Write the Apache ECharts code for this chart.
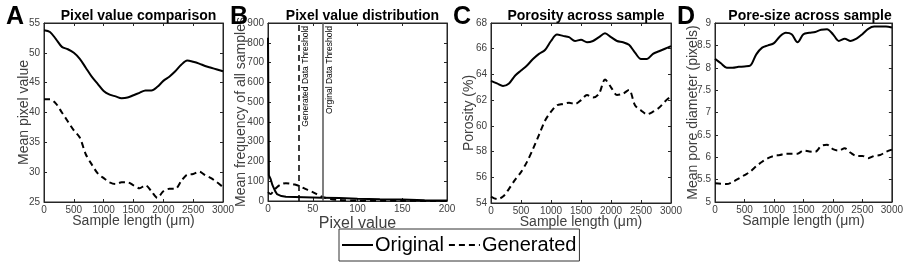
<!DOCTYPE html>
<html>
<head>
<meta charset="utf-8">
<script src="https://cdn.jsdelivr.net/npm/echarts@6/dist/echarts.min.js"></script>
<style>
  html, body { margin: 0; padding: 0; background: #fff; }
  #chart { width: 906px; height: 266px; }
</style>
</head>
<body>
<div id="chart"></div>
<script>
// sample positions (um) for panels A, C, D
var sampleX = [0, 100, 200, 300, 400, 500, 600, 700, 800, 900, 1000, 1100, 1200, 1300, 1400, 1500,
  1600, 1700, 1800, 1900, 2000, 2100, 2200, 2300, 2400, 2500, 2600, 2700, 2800, 2900, 3000];

// A: mean pixel value
var pixelOriginal = [53.8, 53.5, 52.3, 51.0, 50.6, 50.0, 49.0, 47.5, 46.0, 44.8, 43.6, 43.0, 42.7, 42.4, 42.5, 42.9,
  43.3, 43.7, 43.7, 44.3, 45.3, 46.0, 46.9, 48.0, 48.7, 48.5, 48.2, 47.8, 47.5, 47.2, 46.9];
var pixelGenerated = [42.2, 42.2, 41.5, 40.0, 38.5, 37.0, 35.8, 33.0, 31.3, 29.8, 29.0, 28.3, 28.0, 28.3, 28.3, 27.8,
  27.3, 27.8, 26.8, 25.7, 26.8, 27.2, 27.2, 28.5, 29.6, 29.7, 30.1, 29.5, 29.0, 28.3, 27.5];

// B: pixel value distribution
var distXOriginal = [0, 1, 3, 5, 8, 10, 15, 20, 30, 40, 50, 60, 80, 100, 125, 150, 175, 200];
var distOriginal = [825, 130, 110, 80, 50, 35, 25, 21, 20, 19, 18, 17, 15, 12, 9, 7, 4, 2];
var distXGenerated = [0, 3, 6, 10, 15, 20, 25, 30, 35, 40, 50, 60, 70, 80, 100, 150, 200];
var distGenerated = [45, 35, 50, 70, 85, 90, 88, 83, 76, 65, 45, 22, 10, 5, 2, 1, 0];
var generatedThreshold = 34;
var originalThreshold = 61;

// C: porosity (%)
var porosityOriginal = [63.5, 63.3, 63.1, 63.3, 63.9, 64.3, 64.7, 65.2, 65.6, 65.9, 66.6, 67.1, 67.0, 66.9, 66.6, 66.7,
  66.5, 66.6, 66.9, 67.2, 66.9, 66.6, 66.5, 66.3, 65.7, 65.2, 65.2, 65.6, 65.8, 66.0, 66.2];
var porosityGenerated = [54.5, 54.3, 54.5, 55.1, 55.8, 56.4, 57.2, 58.2, 59.3, 60.4, 61.1, 61.6, 61.7, 61.8, 61.7, 62.0,
  62.4, 62.2, 62.5, 63.6, 63.0, 62.4, 62.5, 62.8, 61.6, 61.2, 60.9, 61.1, 61.4, 61.9, 62.3];

// D: mean pore diameter (pixels)
var poreOriginal = [8.2, 8.1, 8.0, 8.0, 8.02, 8.03, 8.05, 8.3, 8.45, 8.5, 8.55, 8.7, 8.78, 8.75, 8.57, 8.75,
  8.78, 8.8, 8.85, 8.86, 8.75, 8.6, 8.65, 8.6, 8.65, 8.75, 8.87, 8.92, 8.92, 8.92, 8.9];
var poreGenerated = [5.42, 5.41, 5.4, 5.45, 5.52, 5.6, 5.68, 5.8, 5.9, 5.98, 6.03, 6.05, 6.08, 6.08, 6.08, 6.15,
  6.13, 6.12, 6.25, 6.28, 6.18, 6.15, 6.2, 6.1, 6.03, 6.03, 5.98, 6.03, 6.05, 6.12, 6.17];

var panelLetters = ["A", "B", "C", "D"];
var panelTitles = ["Pixel value comparison", "Pixel value distribution", "Porosity across sample", "Pore-size across sample"];
var xNames = ["Sample length (\u03bcm)", "Pixel value", "Sample length (\u03bcm)", "Sample length (\u03bcm)"];
var yNames = ["Mean pixel value", "Mean frequency of all samples", "Porosity (%)", "Mean pore diameter (pixels)"];

function pairs(xs, ys) {
  return xs.map(function (x, i) { return [x, ys[i]]; });
}

var FONT = "Liberation Sans";
var grids = [
  { left: 44, top: 23, width: 179, height: 179 },
  { left: 268, top: 23, width: 179, height: 178 },
  { left: 491, top: 23, width: 180, height: 180 },
  { left: 715, top: 23, width: 180, height: 179 }
];
var xRanges = [[0, 3000, 500], [0, 200, 50], [0, 3000, 500], [0, 3000, 500]];
var yRanges = [[25, 55, 5], [0, 900, 100], [54, 68, 2], [5, 9, 0.5]];
var yNameGaps = [13, 20, 15, 15];
var xNameGaps = [12, 15, 12, 12];
var xNameSize = [14, 16, 14, 14];

var plain = function (v) { return String(v); };
var xAxes = [], yAxes = [], titles = [];
grids.forEach(function (g, i) {
  g.show = true;
  g.borderColor = "#262626";
  g.borderWidth = 1;
  var base = {
    gridIndex: i, type: "value",
    axisLine: { show: true, onZero: false, lineStyle: { color: "#262626", width: 1 } },
    axisTick: { show: true, inside: true, length: 3, lineStyle: { color: "#262626" } },
    splitLine: { show: false }
  };
  xAxes.push(Object.assign({}, base, {
    min: xRanges[i][0], max: xRanges[i][1], interval: xRanges[i][2], position: "bottom",
    name: xNames[i], nameLocation: "middle", nameGap: xNameGaps[i], nameMoveOverlap: false,
    nameTextStyle: { fontFamily: FONT, fontSize: xNameSize[i], color: "#404040" },
    axisLabel: { fontFamily: FONT, fontSize: 10, color: "#404040", margin: 3, formatter: plain }
  }));
  xAxes.push(Object.assign({}, base, {
    min: xRanges[i][0], max: xRanges[i][1], interval: xRanges[i][2], position: "top",
    axisLabel: { show: false }
  }));
  yAxes.push(Object.assign({}, base, {
    min: yRanges[i][0], max: yRanges[i][1], interval: yRanges[i][2], position: "left",
    name: yNames[i], nameLocation: "middle", nameGap: yNameGaps[i], nameMoveOverlap: false,
    nameTextStyle: { fontFamily: FONT, fontSize: 14, color: "#404040" },
    axisLabel: { fontFamily: FONT, fontSize: 10, color: "#404040", margin: 4, formatter: plain }
  }));
  yAxes.push(Object.assign({}, base, {
    min: yRanges[i][0], max: yRanges[i][1], interval: yRanges[i][2], position: "right",
    axisLabel: { show: false }
  }));
  titles.push({
    text: panelLetters[i], left: g.left - 43, top: 0,
    textStyle: { fontFamily: FONT, fontSize: 25, fontWeight: "bold", color: "#000" }
  });
  titles.push({
    text: panelTitles[i], left: g.left + g.width / 2, top: 4, textAlign: "center",
    textStyle: { fontFamily: FONT, fontSize: 14, fontWeight: "bold", color: "#000" }
  });
});

var solid = { color: "#000", width: 2, type: "solid" };
var dashed = { color: "#000", width: 2, type: [6, 4] };

function line(name, i, data, style) {
  return {
    name: name, type: "line", xAxisIndex: i * 2, yAxisIndex: i * 2, data: data,
    showSymbol: false, symbol: "none", smooth: 0.3, lineStyle: style, itemStyle: { color: "#000" },
    animation: false, z: 3
  };
}

var series = [
  line("Original", 0, pairs(sampleX, pixelOriginal), solid),
  line("Generated", 0, pairs(sampleX, pixelGenerated), dashed),
  line("Original", 1, pairs(distXOriginal, distOriginal), solid),
  line("Generated", 1, pairs(distXGenerated, distGenerated), dashed),
  line("Original", 2, pairs(sampleX, porosityOriginal), solid),
  line("Generated", 2, pairs(sampleX, porosityGenerated), dashed),
  line("Original", 3, pairs(sampleX, poreOriginal), solid),
  line("Generated", 3, pairs(sampleX, poreGenerated), dashed)
];
series[2].smooth = false;

// threshold lines in panel B
series.push({
  type: "line", xAxisIndex: 2, yAxisIndex: 2, data: [], animation: false,
  markLine: {
    silent: true, symbol: "none",
    data: [
      { xAxis: generatedThreshold, lineStyle: { color: "#000", width: 1.5, type: [6, 4] },
        label: { formatter: "Generated Data Threshold" } },
      { xAxis: originalThreshold, lineStyle: { color: "#555", width: 1.5, type: "solid" },
        label: { formatter: "Orginal Data Threshold" } }
    ],
    label: { show: true, position: "insideEndBottom", fontFamily: FONT, fontSize: 8.5, color: "#000", distance: 3 }
  }
});

var chart = echarts.init(document.getElementById("chart"));
chart.setOption({
  animation: false,
  backgroundColor: "#fff",
  title: titles,
  grid: grids,
  xAxis: xAxes,
  yAxis: yAxes,
  legend: {
    data: ["Original", "Generated"],
    left: 339, top: 229,
    itemWidth: 31, itemHeight: 14, itemGap: 4,
    padding: [6, 3, 6, 2],
    borderColor: "#333", borderWidth: 1,
    itemStyle: { opacity: 0 },
    textStyle: { fontFamily: FONT, fontSize: 20, color: "#000", padding: [0, 0, 0, -3] }
  },
  series: series
});
</script>
</body>
</html>
